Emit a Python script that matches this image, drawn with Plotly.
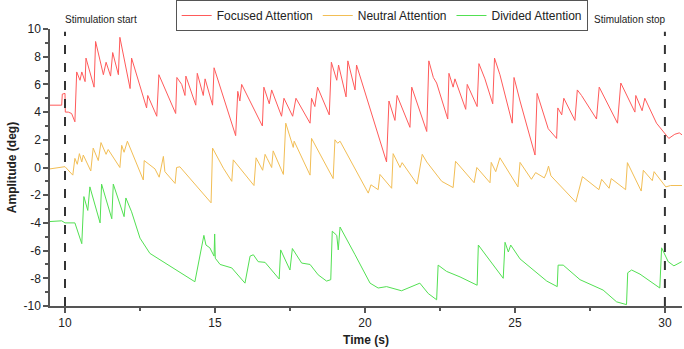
import plotly.graph_objects as go

# Focused Attention (red)
focused_t = [9.5, 9.89, 9.91, 10.0, 10.01, 10.11, 10.22, 10.33, 10.39, 10.5, 10.56, 10.67, 10.7, 10.97, 11.02,
             11.28, 11.37, 11.52, 11.59, 11.78, 11.83, 12.17, 12.22, 12.39, 12.72, 12.76, 13.06, 13.13, 13.69,
             13.73, 13.89, 14.0, 14.03, 14.36, 14.41, 14.61, 14.67, 14.92, 14.97, 15.69, 15.76, 15.83, 15.89,
             16.58, 16.63, 16.81, 16.89, 17.22, 17.3, 17.59, 17.7, 18.17, 18.22, 18.33, 18.42, 18.81, 18.88,
             19.06, 19.12, 19.37, 19.43, 19.67, 19.72, 20.72, 20.8, 21.0, 21.07, 21.5, 21.56, 22.06, 22.13,
             22.28, 22.39, 22.76, 22.8, 22.94, 23.0, 23.36, 23.41, 23.74, 23.8, 24.0, 24.26, 24.32, 24.5,
             24.91, 24.97, 25.17, 25.67, 25.74, 26.11, 26.39, 26.43, 26.56, 26.63, 27.0, 27.08, 27.22, 27.72,
             27.81, 28.42, 28.53, 29.0, 29.03, 29.24, 29.33, 29.72, 30.13, 30.33, 30.48, 30.61]
focused_v = [4.5, 4.5, 5.3, 5.35, 4.0, 4.0, 3.9, 3.3, 6.9, 6.3, 6.9, 6.2, 7.9, 5.8, 9.1,
             6.7, 7.6, 6.6, 8.3, 6.7, 9.4, 5.7, 7.9, 6.7, 4.3, 5.2, 3.7, 6.7, 3.9,
             6.5, 6.0, 5.2, 6.6, 4.5, 6.8, 5.2, 6.4, 4.5, 7.2, 2.3, 5.5, 4.8, 6.0,
             3.0, 5.8, 4.6, 5.6, 3.7, 5.0, 3.7, 5.0, 3.2, 5.0, 4.4, 5.8, 3.8, 7.6,
             6.3, 7.4, 5.1, 7.7, 5.6, 7.4, 0.4, 4.8, 3.4, 5.2, 2.9, 5.8, 2.6, 7.7,
             6.5, 6.1, 3.5, 6.8, 5.8, 6.4, 4.2, 6.0, 4.4, 7.5, 6.4, 4.6, 7.9, 6.7,
             3.2, 6.5, 4.8, 0.9, 5.35, 2.8, 2.1, 4.3, 3.8, 5.0, 3.4, 5.6, 5.2, 3.5,
             5.8, 3.2, 6.1, 4.0, 5.2, 4.1, 5.0, 3.2, 2.1, 2.4, 2.5, 2.3]

# Neutral Attention (orange)
neutral_t = [9.5, 9.89, 10.0, 10.26, 10.33, 10.41, 10.48, 10.56, 10.61, 10.86, 10.94, 11.11, 11.2, 11.37,
             11.44, 11.83, 11.89, 11.97, 12.08, 12.61, 12.64, 13.0, 13.14, 13.28, 13.33, 13.67, 13.72, 13.83,
             14.67, 14.87, 14.92, 15.28, 15.56, 15.61, 16.3, 16.37, 16.59, 16.67, 16.74, 16.89, 16.94, 17.28,
             17.36, 17.61, 17.64, 18.17, 18.22, 18.94, 19.0, 19.09, 19.17, 20.11, 20.2, 20.44, 20.5, 20.76,
             20.89, 20.94, 21.17, 21.24, 21.74, 21.91, 22.06, 22.56, 22.94, 23.02, 23.64, 23.73, 24.17, 24.21,
             24.36, 24.5, 25.1, 25.17, 25.55, 25.69, 25.84, 25.98, 26.06, 26.12, 26.2, 27.03, 27.25, 27.8,
             27.89, 28.14, 28.21, 28.69, 28.75, 29.21, 29.28, 29.58, 29.64, 30.03, 30.19, 30.57]
neutral_v = [-0.1, 0.0, 0.06, -0.55, 0.66, 0.23, 1.0, 0.4, 0.9, -0.25, 1.4, 0.5, 1.8, 0.95,
             1.3, 0.0, 1.6, 1.1, 1.9, -0.9, 0.5, -0.1, -0.7, 0.8, -0.3, -1.15, 0.0, 0.05,
             -2.0, -2.55, 1.4, -0.05, -1.0, 0.55, -1.3, 0.7, -0.2, 0.95, 0.65, 0.0, 1.2, -0.5,
             3.2, 1.45, 1.9, -0.55, 2.1, -0.8, 2.0, 1.75, 1.9, -1.85, -1.25, -1.6, -0.5, -1.2,
             -1.5, 1.0, 0.0, 0.35, -1.2, 0.95, 0.4, -1.0, -1.45, 0.45, -1.1, 0.0, -1.1, 0.37,
             -0.3, 0.7, -1.4, 0.37, -0.85, -0.37, -0.54, -0.75, -0.35, 0.1, -0.6, -2.5, -0.66, -1.6,
             -0.85, -1.5, -0.8, -1.6, 0.35, -1.7, -0.2, -0.95, -0.3, -1.4, -1.3, -1.3]

# Divided Attention (green)
divided_t = [9.5, 9.89, 10.0, 10.33, 10.56, 10.63, 10.76, 10.83, 11.17, 11.22, 11.56, 11.61, 11.97, 12.03,
             12.22, 12.5, 12.83, 13.28, 13.89, 14.33, 14.63, 14.7, 14.83, 14.97, 14.99, 15.01, 15.17, 15.56,
             16.0, 16.17, 16.28, 16.44, 16.67, 17.14, 17.19, 17.28, 17.5, 17.58, 17.89, 18.17, 18.44, 18.72,
             18.86, 18.91, 19.06, 19.11, 19.17, 19.67, 20.17, 20.44, 20.72, 21.22, 21.83, 22.11, 22.39, 22.44,
             22.72, 23.17, 23.61, 23.74, 23.78, 24.17, 24.61, 24.67, 24.78, 24.86, 25.17, 26.06, 26.41, 26.44,
             26.61, 27.17, 27.61, 27.94, 28.39, 28.72, 28.76, 28.89, 29.17, 29.83, 29.89, 30.11, 30.3, 30.56]
divided_v = [-3.9, -3.85, -4.0, -4.0, -5.5, -2.1, -3.1, -1.4, -4.0, -1.2, -3.7, -1.2, -3.55, -2.2,
             -3.2, -5.1, -6.2, -6.8, -7.6, -8.25, -4.9, -5.6, -5.8, -6.4, -4.8, -6.55, -7.0, -7.25,
             -8.35, -6.4, -6.3, -6.8, -6.85, -8.05, -5.95, -6.35, -7.4, -5.85, -6.9, -7.0, -7.75, -8.2,
             -8.1, -4.6, -4.9, -5.95, -4.3, -6.3, -8.35, -8.7, -8.6, -8.9, -8.35, -9.1, -9.55, -7.05,
             -7.5, -7.9, -8.35, -8.5, -5.6, -6.7, -8.0, -5.4, -6.1, -5.6, -6.6, -8.2, -8.6, -7.05,
             -7.05, -8.1, -8.5, -8.85, -9.7, -9.9, -7.6, -7.4, -7.7, -8.7, -5.8, -6.8, -7.1, -6.8]

series_names = ["Focused Attention", "Neutral Attention", "Divided Attention"]
series_colors = ["#FF5A5A", "#F2BE55", "#52E052"]
stim_times = [10, 30]
stim_labels = ["Stimulation start", "Stimulation stop"]
x_ticks = [10, 15, 20, 25, 30]
y_ticks = [-10, -8, -6, -4, -2, 0, 2, 4, 6, 8, 10]

FONT = "Liberation Sans, Arial, sans-serif"

fig = go.Figure()
for t, v, name, col in zip([focused_t, neutral_t, divided_t],
                           [focused_v, neutral_v, divided_v], series_names, series_colors):
    fig.add_trace(go.Scatter(x=t, y=v, mode="lines", name=name,
                             line=dict(color=col, width=1)))

for st in stim_times:
    fig.add_shape(type="line", xref="x", yref="y", x0=st, x1=st, y0=-10, y1=9.8,
                  line=dict(color="#333333", width=2, dash="dash"))

fig.add_annotation(x=stim_times[0], y=1.036, xref="x", yref="paper", text=stim_labels[0],
                   showarrow=False, xanchor="left", yanchor="middle", xshift=-2,
                   font=dict(family=FONT, size=10, color="#222222"))
fig.add_annotation(x=stim_times[1], y=1.036, xref="x", yref="paper", text=stim_labels[1],
                   showarrow=False, xanchor="right", yanchor="middle", xshift=3,
                   font=dict(family=FONT, size=10, color="#222222"))

fig.update_layout(
    width=684, height=349,
    margin=dict(l=50, r=2, t=29, b=43, autoexpand=False),
    paper_bgcolor="white", plot_bgcolor="white",
    font=dict(family=FONT, size=12, color="#222222"),
    showlegend=True,
    legend=dict(orientation="h", xref="container", yref="container",
                x=0.558, xanchor="center", y=1.0, yanchor="top",
                bordercolor="#555555", borderwidth=1, bgcolor="white",
                font=dict(family=FONT, size=12, color="#222222"),
                itemwidth=30, tracegroupgap=0),
    xaxis=dict(range=[9.5, 30.57], tickvals=x_ticks, ticktext=[str(v) for v in x_ticks],
               showgrid=False, zeroline=False, showline=True, linecolor="#555555", linewidth=1.5,
               ticks="outside", ticklen=5, tickcolor="#555555", tickwidth=1.5, automargin=False,
               minor=dict(tickvals=[12.5, 17.5, 22.5, 27.5], ticks="outside", ticklen=3,
                          tickcolor="#555555", tickwidth=1.5),
               title=dict(text="<b>Time (s)</b>", font=dict(size=12), standoff=6),
               tickfont=dict(size=12)),
    yaxis=dict(range=[-10, 10], tickvals=y_ticks, ticktext=[str(v) for v in y_ticks],
               showgrid=False, zeroline=False, showline=True, linecolor="#555555", linewidth=1.5,
               ticks="outside", ticklen=5, tickcolor="#555555", tickwidth=1.5, automargin=False,
               minor=dict(tickvals=[-9, -7, -5, -3, -1, 1, 3, 5, 7, 9], ticks="outside", ticklen=3,
                          tickcolor="#555555", tickwidth=1.5),
               title=dict(text="<b>Amplitude (deg)</b>", font=dict(size=12), standoff=4),
               tickfont=dict(size=12)),
)

fig.write_html("out.html", config={"displayModeBar": False},
               post_script="document.body.style.margin='0';document.body.style.overflow='hidden';")
